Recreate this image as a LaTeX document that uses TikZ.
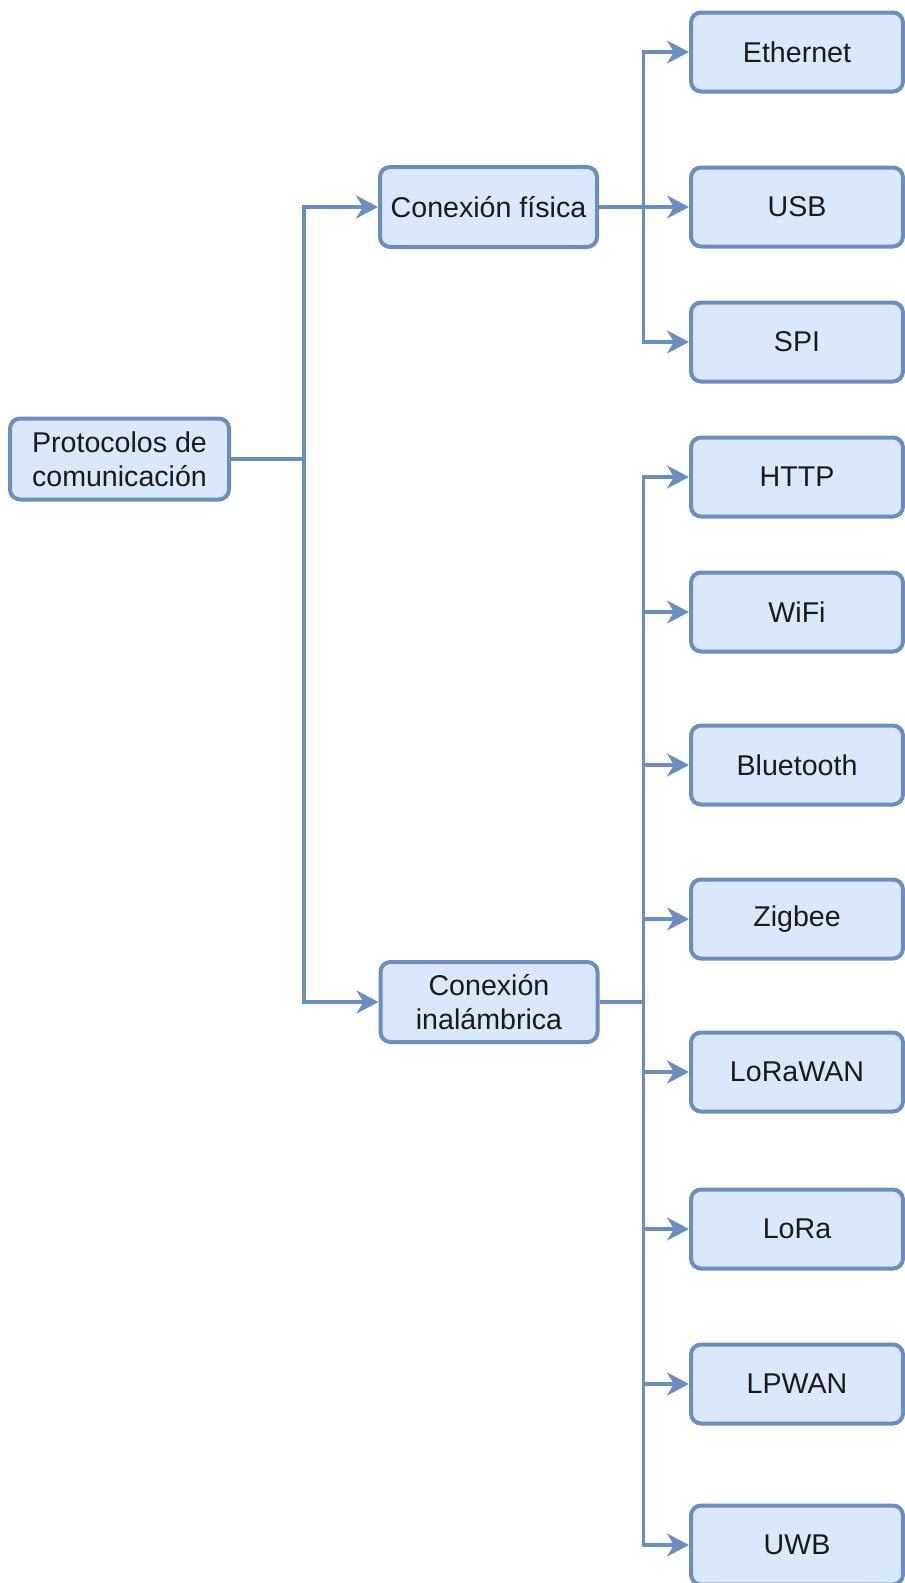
\documentclass[tikz,border=0pt]{standalone}
\usepackage{fontspec}
\setmainfont{Liberation Sans}
\usetikzlibrary{arrows.meta}
\definecolor{boxfill}{HTML}{DAE8FC}
\definecolor{boxline}{HTML}{6C8EBF}
\definecolor{txt}{HTML}{1A1A1A}
\begin{document}
\begin{tikzpicture}[x=1pt,y=-1pt,
  box/.style={draw=boxline, fill=boxfill, line width=4pt, rounded corners=10pt,
    inner sep=0pt, align=center, text=txt,
    font=\fontsize{28.6}{34}\selectfont},
  rootbox/.style={box, minimum width=219pt, minimum height=81pt},
  midbox/.style={box, minimum width=217pt, minimum height=80pt},
  leafbox/.style={box, minimum width=212pt, minimum height=79pt},
  conn/.style={draw=boxline, line width=3.3pt, -{Stealth[length=22pt,width=23pt,inset=7pt]}},
  plain/.style={draw=boxline, line width=3.3pt}]
\useasboundingbox (0,0) rectangle (905,1583);
\node[rootbox] (root) at (119.5,459) {Protocolos de\\comunicación};
\node[midbox] (fis) at (488.5,207) {Conexión física};
\node[midbox] (ina) at (489,1002) {Conexión\\inalámbrica};
\node[leafbox] (eth) at (797,52) {Ethernet};
\node[leafbox] (usb) at (797,207) {USB};
\node[leafbox] (spi) at (797,342) {SPI};
\node[leafbox] (http) at (797,477) {HTTP};
\node[leafbox] (wifi) at (797,612) {WiFi};
\node[leafbox] (bt) at (797,765) {Bluetooth};
\node[leafbox] (zig) at (797,919) {Zigbee};
\node[leafbox] (lrw) at (797,1072) {LoRaWAN};
\node[leafbox] (lora) at (797,1229) {LoRa};
\node[leafbox] (lpwan) at (797,1384) {LPWAN};
\node[leafbox] (uwb) at (797,1545) {UWB};
\coordinate (j0) at (304,459);
\coordinate (j1) at (643.5,207);
\coordinate (j2) at (643.5,1002);
\draw[plain] (root.east) -- (j0);
\draw[conn] (j0) |- (fis.west);
\draw[conn] (j0) |- (ina.west);
\draw[plain] (fis.east) -- (j1);
\foreach \n in {eth,usb,spi} \draw[conn] (j1) |- (\n.west);
\draw[plain] (ina.east) -- (j2);
\foreach \n in {http,wifi,bt,zig,lrw,lora,lpwan,uwb} \draw[conn] (j2) |- (\n.west);
\end{tikzpicture}
\end{document}
